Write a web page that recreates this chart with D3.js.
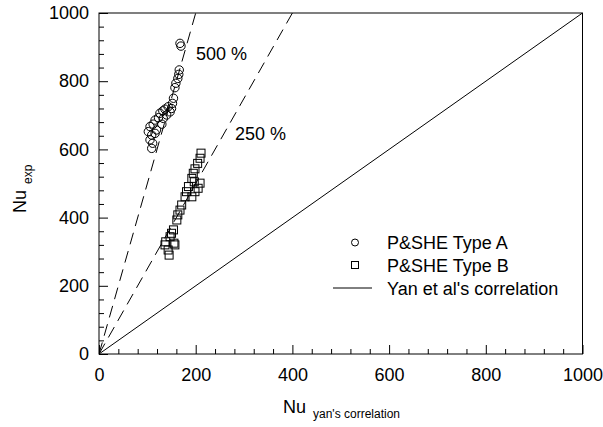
<!DOCTYPE html>
<html>
<head>
<meta charset="utf-8">
<script src="https://cdn.jsdelivr.net/npm/d3@7"></script>
<style>
  html, body { margin: 0; padding: 0; background: #fff; }
  svg { display: block; font-family: Arial, "Liberation Sans", sans-serif; }
</style>
</head>
<body>
<svg id="chart" width="603" height="427"></svg>
<script>
// P&SHE Type A measurements: [Nu from Yan's correlation, Nu experimental]
const typeA = [
  [167.5, 911], [169.5, 903], [166, 833], [165, 820], [163, 808], [159, 794],
  [157, 781], [154, 750], [152, 735], [150, 720], [147, 710], [143, 725],
  [136.5, 718], [132, 713], [126, 706], [140, 701], [133, 691], [123, 693],
  [116, 686], [130, 674], [112, 674], [105.5, 667], [119, 657], [102, 652],
  [109, 642], [116, 647], [105.5, 628], [111, 618], [109, 603]
];

// P&SHE Type B measurements
const typeB = [
  [211, 589], [209, 574], [204, 559], [198.5, 543], [195, 530], [192, 515],
  [197, 505], [209, 501], [205, 486], [198.5, 476], [185, 491], [181, 476],
  [178, 461], [192, 461], [171, 437], [167.5, 422], [163, 408], [161, 393],
  [154, 364], [150, 354], [147, 344], [138, 329], [136.5, 320], [157, 320],
  [143, 305], [145, 290], [155, 325]
];

// Reference lines: ratio of experimental to correlated Nu
const refRatios = [1, 2.5, 5];
const refLabels = [
  { ratio: 5, text: "500 %" },
  { ratio: 2.5, text: "250 %" }
];

const majorTicks = [0, 200, 400, 600, 800, 1000];
const minorTicks = d3.range(40, 1000, 40).filter(v => v % 200 !== 0);

const legendItems = ["P&SHE Type A", "P&SHE Type B", "Yan et al's correlation"];

const svg = d3.select("#chart");
const x = d3.scaleLinear().domain([0, 1000]).range([99, 582.5]);
const y = d3.scaleLinear().domain([0, 1000]).range([354, 13]);

// Minor ticks (inward, unlabeled)
svg.append("g")
  .attr("transform", `translate(0,${y(0)})`)
  .call(d3.axisBottom(x).tickValues(minorTicks).tickSizeInner(-5).tickSizeOuter(0).tickFormat(""))
  .call(g => g.select(".domain").remove());
svg.append("g")
  .attr("transform", `translate(${x(0)},0)`)
  .call(d3.axisLeft(y).tickValues(minorTicks).tickSizeInner(-5).tickSizeOuter(0).tickFormat(""))
  .call(g => g.select(".domain").remove());

// Major ticks with labels
const xAxis = svg.append("g")
  .attr("transform", `translate(0,${y(0)})`)
  .call(d3.axisBottom(x).tickValues(majorTicks).tickSizeInner(-9).tickSizeOuter(0).tickPadding(14).tickFormat(d3.format("d")));
const yAxis = svg.append("g")
  .attr("transform", `translate(${x(0)},0)`)
  .call(d3.axisLeft(y).tickValues(majorTicks).tickSizeInner(-9).tickSizeOuter(0).tickPadding(10).tickFormat(d3.format("d")));
[xAxis, yAxis].forEach(g => {
  g.select(".domain").remove();
  g.selectAll("text").attr("font-size", 18).attr("fill", "#000").attr("font-family", "Arial, 'Liberation Sans', sans-serif");
  g.selectAll("line").attr("stroke", "#000");
});
svg.selectAll(".tick line").attr("stroke", "#000");

// Frame
svg.append("rect")
  .attr("x", x(0)).attr("y", y(1000))
  .attr("width", x(1000) - x(0)).attr("height", y(0) - y(1000))
  .attr("fill", "none").attr("stroke", "#000").attr("stroke-width", 1);

// Reference lines through the origin
const clipId = "plotClip";
svg.append("clipPath").attr("id", clipId)
  .append("rect")
  .attr("x", x(0)).attr("y", y(1000))
  .attr("width", x(1000) - x(0)).attr("height", y(0) - y(1000));

const line = d3.line().x(d => x(d[0])).y(d => y(d[1]));
svg.append("g").attr("clip-path", `url(#${clipId})`)
  .selectAll("path")
  .data(refRatios)
  .join("path")
  .attr("d", r => line([[0, 0], [1000 / r, 1000]]))
  .attr("fill", "none")
  .attr("stroke", "#000")
  .attr("stroke-width", 1)
  .attr("stroke-dasharray", r => r === 1 ? null : "12,7");

// Labels for the percentage lines
svg.selectAll("text.pct")
  .data(refLabels)
  .join("text")
  .attr("class", "pct")
  .attr("x", d => d.ratio === 5 ? 196 : 235)
  .attr("y", d => d.ratio === 5 ? 60 : 140)
  .attr("font-size", 18)
  .text(d => d.text);

// Type A: open circles
svg.append("g")
  .selectAll("circle")
  .data(typeA)
  .join("circle")
  .attr("cx", d => x(d[0]))
  .attr("cy", d => y(d[1]))
  .attr("r", 4.2)
  .attr("fill", "none")
  .attr("stroke", "#000")
  .attr("stroke-width", 1);

// Type B: open squares
const sq = 8;
svg.append("g")
  .selectAll("rect")
  .data(typeB)
  .join("rect")
  .attr("x", d => x(d[0]) - sq / 2)
  .attr("y", d => y(d[1]) - sq / 2)
  .attr("width", sq)
  .attr("height", sq)
  .attr("fill", "none")
  .attr("stroke", "#000")
  .attr("stroke-width", 1);

// Legend
const legend = svg.append("g");
const legendRows = [242.5, 265, 288];
legend.selectAll("text")
  .data(legendItems)
  .join("text")
  .attr("x", 387)
  .attr("y", (d, i) => legendRows[i] + 6.5)
  .attr("font-size", 18)
  .text(d => d);
legend.append("circle").attr("cx", 355).attr("cy", legendRows[0]).attr("r", 3.5)
  .attr("fill", "none").attr("stroke", "#000");
legend.append("rect").attr("x", 351.5).attr("y", legendRows[1] - 3.5).attr("width", 7).attr("height", 7)
  .attr("fill", "none").attr("stroke", "#000");
legend.append("line").attr("x1", 333).attr("x2", 372).attr("y1", legendRows[2]).attr("y2", legendRows[2])
  .attr("stroke", "#000");

// Axis titles with subscripts
const xt = svg.append("text").attr("x", 283).attr("y", 413).attr("font-size", 18);
xt.append("tspan").text("Nu");
xt.append("tspan").attr("dx", 7).attr("dy", 5).attr("font-size", 12).text("yan's correlation");

const yt = svg.append("text").attr("transform", "translate(26,213) rotate(-90)").attr("font-size", 18);
yt.append("tspan").text("Nu");
yt.append("tspan").attr("dx", 6).attr("dy", 6).attr("font-size", 12).text("exp");
</script>
</body>
</html>
